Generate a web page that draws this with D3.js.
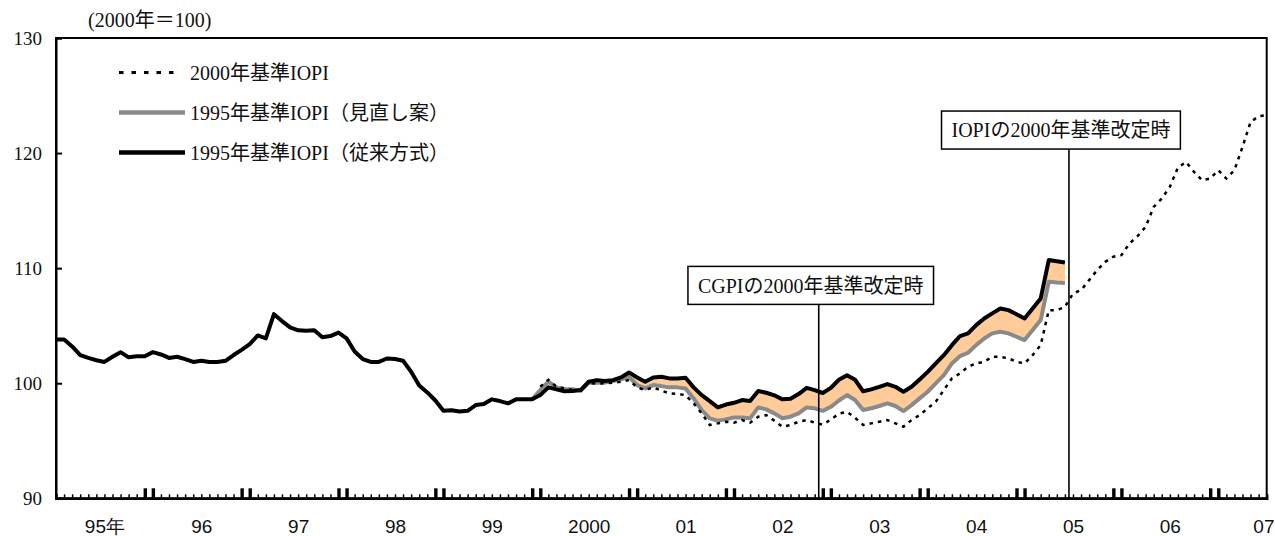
<!DOCTYPE html>
<html>
<head>
<meta charset="utf-8">
<script src="https://cdn.jsdelivr.net/npm/d3@7"></script>
<style>
  html, body { margin: 0; padding: 0; background: #fff; }
  svg { display: block; font-family: "Liberation Serif", "Noto Sans CJK JP", serif; }
</style>
</head>
<body>
<svg id="chart" width="1275" height="536"></svg>
<script>
// Month index 0 = January 1995, 150 = July 2007
const monthCount = 151;
const yearLabels = ["95年", "96", "97", "98", "99", "2000", "01", "02", "03", "04", "05", "06", "07"];
const yTicks = [90, 100, 110, 120, 130];

// 1995-base IOPI, conventional method (Jan 1995 - Jun 2005)
const iopi95Conv = [
  103.8, 103.8, 103.2, 102.45, 102.2, 102.0, 101.85, 102.3, 102.7, 102.25, 102.35, 102.35,
  102.7, 102.5, 102.2, 102.3, 102.1, 101.85, 101.95, 101.85, 101.85, 101.95, 102.45, 102.9,
  103.4, 104.15, 103.9, 106.0, 105.4, 104.85, 104.6, 104.55, 104.6, 104.0, 104.1, 104.4,
  103.9, 102.75, 102.1, 101.85, 101.85, 102.15, 102.1, 101.95, 101.0, 99.8, 99.2, 98.5,
  97.6, 97.65, 97.55, 97.6, 98.1, 98.2, 98.6, 98.45, 98.25, 98.6, 98.6, 98.6,
  98.97, 99.64, 99.47, 99.3, 99.32, 99.4, 100.13, 100.27, 100.2, 100.27, 100.5, 100.94,
  100.5, 100.13, 100.5, 100.56, 100.42, 100.42, 100.48, 99.64, 98.97, 98.45, 97.9, 98.15,
  98.3, 98.54, 98.45, 99.32, 99.17, 98.95, 98.6, 98.65, 99.06, 99.6, 99.4, 99.15,
  99.6, 100.3, 100.7, 100.3, 99.3, 99.47, 99.69, 99.93, 99.69, 99.26, 99.69, 100.33,
  100.99, 101.72, 102.44, 103.31, 104.1, 104.33, 105.05, 105.63, 106.07, 106.5, 106.35, 106.0,
  105.63, 106.5, 107.37, 110.7, 110.6, 110.5
];
const iopi95ConvStart = 0;

// 1995-base IOPI, revised proposal (Dec 1999 - Jun 2005)
const iopi95Rev = [
  98.6,
  99.4, 100.13, 99.64, 99.47, 99.47, 99.35, 100.04, 100.04, 100.07, 100.19, 100.33, 100.56,
  99.84, 99.55, 99.84, 99.75, 99.64, 99.64, 99.55, 98.68, 97.67, 96.95, 96.75, 96.86,
  97.03, 97.03, 96.95, 97.9, 97.73, 97.38, 96.95, 97.09, 97.38, 97.9, 97.82, 97.6,
  97.95, 98.5, 98.97, 98.54, 97.67, 97.82, 98.02, 98.25, 98.02, 97.58, 98.1, 98.68,
  99.26, 99.98, 100.71, 101.72, 102.36, 102.65, 103.31, 103.89, 104.33, 104.47, 104.33, 104.04,
  103.75, 104.62, 105.49, 108.81, 108.75, 108.72
];
const iopi95RevStart = 59;

// 2000-base IOPI (Jan 2000 - Jul 2007)
const iopi2000 = [
  99.7, 100.3, 99.7, 99.55, 99.4, 99.45, 100.04, 99.95, 100.0, 100.04, 100.13, 100.27,
  99.64, 99.4, 99.64, 99.35, 99.12, 99.06, 98.97, 98.25, 97.38, 96.37, 96.51, 96.65,
  96.57, 96.8, 96.57, 97.09, 97.23, 96.74, 96.22, 96.37, 96.65, 96.8, 96.57, 96.4,
  96.85, 97.35, 97.52, 97.0, 96.37, 96.51, 96.65, 96.8, 96.51, 96.22, 96.8, 97.23,
  97.82, 98.39, 99.41, 100.42, 100.86, 101.43, 101.72, 101.87, 102.3, 102.3, 102.16, 101.87,
  101.72, 102.44, 103.31, 106.35, 106.35, 106.64, 107.8, 108.09, 108.96, 109.83, 110.55, 110.99,
  111.13, 112.14, 112.78, 113.59, 115.32, 116.05, 117.06, 118.74, 119.23, 118.36, 117.64, 117.79,
  118.51, 117.79, 118.51, 120.53, 122.7, 123.2, 123.3
];
const iopi2000Start = 60;

// Rebasing events: month position of the marker line, index level of the label box bottom
const eventLabels = ["CGPIの2000年基準改定時", "IOPIの2000年基準改定時"];
const eventMonths = [94.5, 125.5];
const eventBoxLevels = [106.85, 120.35];

const legendLabels = ["2000年基準IOPI", "1995年基準IOPI（見直し案）", "1995年基準IOPI（従来方式）"];

const COLORS = { conv: "#000000", rev: "#8a8a8a", base2000: "#000000", band: "#ffcc99", text: "#111111" };

const W = 1275;
const svg = d3.select("#chart");
const plot = { left: 56, right: 1266.7, top: 38, bottom: 498.3 };

const x = d3.scaleLinear().domain([0, monthCount - 1]).range([plot.left, plot.right]);
const y = d3.scaleLinear().domain([90, 130]).range([plot.bottom, plot.top]);

const toPoints = (vals, start) => vals.map((v, k) => ({ m: start + k, v }));
const convPts = toPoints(iopi95Conv, iopi95ConvStart);
const revPts = toPoints(iopi95Rev, iopi95RevStart);
const b2000Pts = toPoints(iopi2000, iopi2000Start);

// band between the two 1995-base series where the conventional one is higher
const convByMonth = new Map(convPts.map(p => [p.m, p.v]));
const bandPts = revPts.map(p => ({ m: p.m, lo: p.v, hi: Math.max(p.v, convByMonth.get(p.m)) }));

svg.append("path")
  .datum(bandPts)
  .attr("fill", COLORS.band)
  .attr("d", d3.area().x(d => x(d.m)).y0(d => y(d.lo)).y1(d => y(d.hi)));

const line = d3.line().x(d => x(d.m)).y(d => y(d.v));

svg.append("path").datum(revPts)
  .attr("fill", "none").attr("stroke", COLORS.rev).attr("stroke-width", 4)
  .attr("stroke-linejoin", "round").attr("d", line);

svg.append("path").datum(b2000Pts)
  .attr("fill", "none").attr("stroke", COLORS.base2000).attr("stroke-width", 2.5)
  .attr("stroke-dasharray", "3.5,5").attr("d", line);

svg.append("path").datum(convPts)
  .attr("fill", "none").attr("stroke", COLORS.conv).attr("stroke-width", 4)
  .attr("stroke-linejoin", "round").attr("d", line);

// Frame: top and right borders
svg.append("rect")
  .attr("x", plot.left).attr("y", plot.top)
  .attr("width", plot.right - plot.left).attr("height", plot.bottom - plot.top)
  .attr("fill", "none").attr("stroke", "#000").attr("stroke-width", 2);

// Y axis with inward ticks
const yAxis = svg.append("g")
  .attr("transform", `translate(${plot.left},0)`)
  .call(d3.axisLeft(y).tickValues(yTicks).tickSize(-6).tickPadding(14).tickFormat(d3.format("d")));
yAxis.select(".domain").attr("stroke-width", 2);
yAxis.selectAll(".tick line").attr("stroke-width", 2);
yAxis.selectAll("text").attr("font-size", 19).attr("fill", COLORS.text)
  .attr("font-family", "Liberation Serif, serif");

// X axis: monthly minor ticks
const xMinor = svg.append("g")
  .attr("transform", `translate(0,${plot.bottom})`)
  .call(d3.axisBottom(x).tickValues(d3.range(0, monthCount)).tickSize(-4).tickFormat(""));
xMinor.select(".domain").attr("stroke-width", 2.5);
xMinor.selectAll(".tick line").attr("stroke-width", 1.5);

// Thick paired ticks at each December / January
const yearEdges = [];
for (let yr = 1; yr * 12 < monthCount; yr++) { yearEdges.push(yr * 12 - 1, yr * 12); }
const xMajor = svg.append("g")
  .attr("transform", `translate(0,${plot.bottom})`)
  .call(d3.axisBottom(x).tickValues(yearEdges).tickSize(-10).tickFormat(""));
xMajor.select(".domain").remove();
xMajor.selectAll(".tick line").attr("stroke-width", 3.4);

// Year labels centred on July of each year
const yearPos = yearLabels.map((_, k) => 6 + 12 * k);
const xLabels = svg.append("g")
  .attr("transform", `translate(0,${plot.bottom})`)
  .call(d3.axisBottom(x).tickValues(yearPos).tickSize(0).tickPadding(21)
    .tickFormat((d, k) => yearLabels[k]));
xLabels.select(".domain").remove();
xLabels.selectAll("text").attr("font-size", 19).attr("fill", COLORS.text);
// keep the last label inside the page
xLabels.selectAll(".tick").each(function (d) {
  const txt = d3.select(this).select("text");
  const half = txt.node().getComputedTextLength() / 2;
  const over = x(d) + half - (W - 1);
  if (over > 0) txt.attr("x", -over);
});

// Unit note
svg.append("text")
  .attr("x", 88).attr("y", 20).attr("dy", "0.36em")
  .attr("font-size", 20).attr("fill", COLORS.text)
  .text("(2000年＝100)");

// Event marker lines and label boxes
const boxH = 38, boxPadX = 10;
eventLabels.forEach((label, k) => {
  const lx = x(eventMonths[k]);
  const boxBottom = y(eventBoxLevels[k]);
  svg.append("line")
    .attr("x1", lx).attr("x2", lx).attr("y1", boxBottom).attr("y2", plot.bottom)
    .attr("stroke", "#000").attr("stroke-width", 1.6);
  const g = svg.append("g");
  const t = g.append("text")
    .attr("x", lx - 8).attr("y", boxBottom - boxH / 2).attr("dy", "0.36em")
    .attr("text-anchor", "middle").attr("font-size", 20).attr("fill", COLORS.text)
    .text(label);
  const w = t.node().getComputedTextLength() + boxPadX * 2;
  g.insert("rect", "text")
    .attr("x", lx - 8 - w / 2).attr("y", boxBottom - boxH)
    .attr("width", w).attr("height", boxH)
    .attr("fill", "#fff").attr("stroke", "#000").attr("stroke-width", 1.5);
});

// Legend
const legend = svg.append("g").attr("transform", "translate(119,72.5)");
const legendStyles = [
  { color: COLORS.base2000, width: 2.8, dash: "4.5,8", len: 58 },
  { color: COLORS.rev, width: 4.5, dash: null, len: 66 },
  { color: COLORS.conv, width: 4.5, dash: null, len: 66 }
];
legendLabels.forEach((label, k) => {
  const row = legend.append("g").attr("transform", `translate(0,${k * 40})`);
  const st = legendStyles[k];
  row.append("line")
    .attr("x1", 0).attr("x2", st.len).attr("y1", 0).attr("y2", 0)
    .attr("stroke", st.color).attr("stroke-width", st.width)
    .attr("stroke-dasharray", st.dash);
  row.append("text")
    .attr("x", 71).attr("y", 0).attr("dy", "0.36em")
    .attr("font-size", 20).attr("fill", COLORS.text)
    .text(label);
});
</script>
</body>
</html>
